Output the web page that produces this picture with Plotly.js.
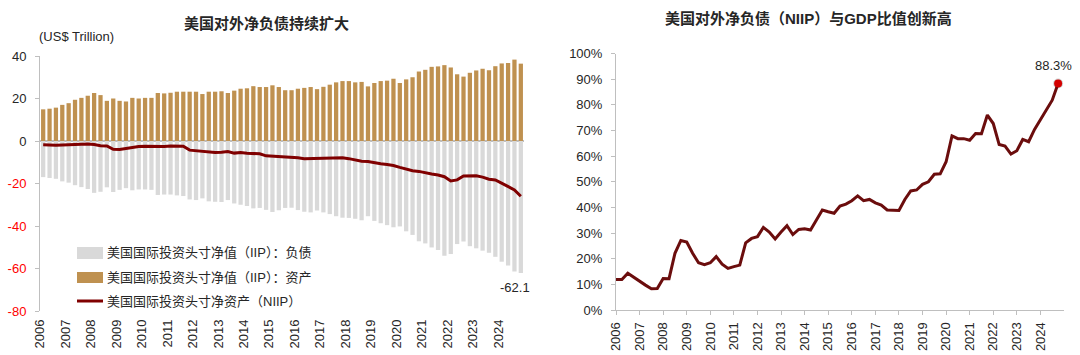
<!DOCTYPE html>
<html>
<head>
<meta charset="utf-8">
<script src="https://cdn.plot.ly/plotly-3.0.1.min.js"></script>
<style>
html,body{margin:0;padding:0;background:#ffffff;}
#chart{width:1080px;height:355px;}
</style>
</head>
<body>
<div id="chart"></div>
<script>
// ---------- data ----------
const years = [2006,2007,2008,2009,2010,2011,2012,2013,2014,2015,2016,2017,2018,2019,2020,2021,2022,2023,2024];
const quarterNames = ['Q1','Q2','Q3','Q4'];
const quarters = [];
years.forEach(y => quarterNames.forEach(q => quarters.push(y + q)));

// US$ trillion, 2006Q1 - 2024Q4
const assets = [
  14.9,15.2,15.7,17.0,
  17.8,19.4,20.3,21.3,
  22.6,21.6,18.9,20.0,
  18.9,18.6,20.3,20.0,
  20.3,20.3,22.6,22.4,
  22.7,23.2,23.2,23.2,
  23.2,22.1,23.2,23.2,
  23.4,22.6,23.7,24.6,
  24.8,25.8,25.4,25.4,
  26.2,25.4,23.9,23.9,
  24.6,25.0,25.4,24.4,
  25.5,26.5,27.6,28.2,
  28.2,27.6,27.8,25.7,
  27.3,28.2,28.4,29.3,
  27.3,29.0,30.0,32.7,
  33.5,34.9,35.1,35.7,
  34.6,31.4,30.3,32.1,
  33.2,34.0,33.3,35.2,
  36.5,36.7,38.3,36.4
];
const liabilities = [
  -17.0,-17.4,-17.8,-19.0,
  -19.6,-20.8,-21.7,-22.6,
  -24.4,-23.9,-21.8,-24.0,
  -23.0,-22.2,-23.2,-22.8,
  -22.8,-23.0,-25.4,-25.2,
  -25.2,-25.6,-25.9,-27.5,
  -27.8,-27.0,-28.4,-28.6,
  -28.7,-27.8,-29.4,-30.0,
  -30.6,-31.7,-31.5,-32.4,
  -33.4,-32.6,-31.5,-31.4,
  -32.5,-33.3,-33.6,-32.7,
  -33.6,-34.4,-35.4,-36.1,
  -36.2,-36.6,-37.3,-35.4,
  -37.6,-38.7,-39.6,-40.6,
  -40.2,-42.5,-44.2,-47.2,
  -48.2,-50.1,-51.3,-54.0,
  -53.2,-48.5,-47.3,-49.5,
  -50.5,-51.6,-52.6,-54.5,
  -56.8,-58.6,-61.4,-62.1
];
const niip = [
  -1.8,-2.0,-2.0,-1.9,
  -1.8,-1.6,-1.4,-1.4,
  -1.7,-2.2,-2.3,-3.9,
  -4.0,-3.5,-3.0,-2.6,
  -2.5,-2.6,-2.8,-2.6,
  -2.3,-2.3,-2.5,-4.3,
  -4.6,-4.7,-5.2,-5.4,
  -5.3,-5.0,-5.7,-5.4,
  -5.8,-5.9,-6.0,-7.0,
  -7.2,-7.2,-7.6,-7.5,
  -7.9,-8.3,-8.2,-8.2,
  -8.1,-7.9,-7.8,-7.9,
  -8.3,-9.0,-9.5,-9.7,
  -10.3,-10.7,-11.1,-11.5,
  -12.4,-13.2,-14.0,-14.3,
  -15.0,-15.5,-16.0,-16.8,
  -18.8,-18.3,-16.5,-16.6,
  -16.4,-17.0,-18.0,-18.3,
  -19.8,-21.3,-23.0,-26.0
];
// NIIP / GDP, %
const niipToGdp = [
  11.9,11.9,14.3,12.7,
  11.4,9.7,8.3,8.4,
  12.3,12.2,22.1,27.1,
  26.5,22.1,18.4,17.7,
  18.4,20.8,17.9,16.2,
  16.9,17.5,26.2,27.9,
  28.6,32.2,30.4,27.7,
  30.4,32.9,29.4,31.4,
  31.7,31.2,35.1,39.0,
  38.3,37.7,40.5,41.3,
  42.6,44.5,42.6,43.1,
  41.8,40.9,39.0,39.0,
  38.8,43.1,46.4,46.8,
  49.0,50.0,52.9,53.1,
  57.8,67.9,66.8,66.8,
  66.2,68.8,68.7,76.0,
  72.7,64.5,63.9,60.8,
  62.1,66.5,65.6,70.4,
  74.3,77.7,81.8,88.3
];
const yearTickLabels = years.map(String);
const leftTickValues = [-80,-60,-40,-20,0,20,40];
const legendNames = [
  '美国国际投资头寸净值（IIP）：负债',
  '美国国际投资头寸净值（IIP）：资产',
  '美国国际投资头寸净资产（NIIP）'
];
const leftTitle = '美国对外净负债持续扩大';
const rightTitle = '美国对外净负债（NIIP）与GDP比值创新高';
const unitLabel = '(US$ Trillion)';

// ---------- styling ----------
const W = 1080, H = 355;
const px = v => v / W;
const py = v => (H - v) / H;
const NUM = 'Liberation Sans, Arial, sans-serif';
const CJK = 'Liberation Sans, Noto Sans CJK SC, sans-serif';
const TXT = '#262626';
const AX = '#BFBFBF';
const cGray = '#D9D9D9', cBrown = '#BF9150', cNiip = '#800000', cRatio = '#6B0D0D', cDot = '#D40000';

const last = quarters.length - 1;

const traces = [
  {type:'bar', x:quarters, y:liabilities, marker:{color:cGray}, xaxis:'x', yaxis:'y', name:legendNames[0], hoverinfo:'skip'},
  {type:'bar', x:quarters, y:assets, marker:{color:cBrown}, xaxis:'x', yaxis:'y', name:legendNames[1], hoverinfo:'skip'},
  {type:'scatter', mode:'lines', x:quarters, y:niip, line:{color:cNiip, width:3}, xaxis:'x', yaxis:'y', name:legendNames[2], hoverinfo:'skip'},
  {type:'scatter', mode:'lines', x:quarters, y:niipToGdp, line:{color:cRatio, width:3}, xaxis:'x2', yaxis:'y2', hoverinfo:'skip'},
  {type:'scatter', mode:'markers', x:[quarters[last]], y:[niipToGdp[last]], marker:{color:'rgba(0,0,0,0.18)', size:10}, xaxis:'x2', yaxis:'y2', hoverinfo:'skip'},
  {type:'scatter', mode:'markers', x:[quarters[last]], y:[niipToGdp[last]], marker:{color:cDot, size:8}, xaxis:'x2', yaxis:'y2', hoverinfo:'skip'}
];

const leftTickText = leftTickValues.map(v => v < 0 ? '<span style="color:#FF0000">' + v + '</span>' : String(v));

const layout = {
  width: W, height: H,
  margin: {l:0, r:0, t:0, b:0},
  paper_bgcolor: '#ffffff', plot_bgcolor: 'rgba(0,0,0,0)',
  showlegend: false,
  barmode: 'relative',
  bargap: 0.33,
  font: {family: NUM, size: 13, color: TXT},
  xaxis: {
    type:'category', domain:[px(40), px(524)], anchor:'y',
    range:[-0.5, quarters.length - 0.5],
    tickmode:'array', tickvals: years.map((y,i) => i*4 - 0.5), ticktext: yearTickLabels,
    tickangle:-90, ticks:'', showline:false, showgrid:false, zeroline:false,
    ticklabelstandoff: 5,
    tickfont:{family:NUM, size:13, color:TXT}
  },
  yaxis: {
    domain:[py(311), py(56)], anchor:'x',
    range:[-80, 40],
    tickmode:'array', tickvals: leftTickValues, ticktext: leftTickText,
    ticks:'outside', ticklen:4, tickcolor:AX, tickwidth:1,
    showline:true, linecolor:AX, linewidth:1,
    showgrid:false, zeroline:true, zerolinecolor:AX, zerolinewidth:1.5,
    ticklabelstandoff: 6,
    tickfont:{family:NUM, size:13, color:TXT}
  },
  xaxis2: {
    type:'category', domain:[px(616), px(1064)], anchor:'y2',
    range:[0, quarters.length],
    tickmode:'array', tickvals: years.map((y,i) => i*4), ticktext: yearTickLabels,
    tickangle:-90, ticks:'outside', ticklen:4, tickcolor:AX,
    showline:true, linecolor:AX, linewidth:1, showgrid:false, zeroline:false,
    ticklabelstandoff: 2,
    tickfont:{family:NUM, size:13, color:TXT}
  },
  yaxis2: {
    domain:[py(310), py(53.5)], anchor:'x2',
    range:[0, 100], dtick:10, ticksuffix:'%',
    ticks:'outside', ticklen:4, tickcolor:AX,
    showline:true, linecolor:AX, linewidth:1, showgrid:false, zeroline:false,
    ticklabelstandoff: 6,
    tickfont:{family:NUM, size:13, color:TXT}
  },
  shapes: [
    {type:'rect', xref:'paper', yref:'paper', x0:px(77), x1:px(103), y0:py(259), y1:py(247), fillcolor:cGray, line:{width:0}},
    {type:'rect', xref:'paper', yref:'paper', x0:px(77), x1:px(103), y0:py(283), y1:py(272), fillcolor:cBrown, line:{width:0}},
    {type:'line', xref:'paper', yref:'paper', x0:px(77), x1:px(103), y0:py(301), y1:py(301), line:{color:cNiip, width:3}}
  ],
  annotations: [
    {xref:'paper', yref:'paper', x:px(266), y:py(23), xanchor:'center', yanchor:'middle', showarrow:false,
     text:'<b>' + leftTitle + '</b>', font:{family:CJK, size:15, color:TXT}},
    {xref:'paper', yref:'paper', x:px(808), y:py(18), xanchor:'center', yanchor:'middle', showarrow:false,
     text:'<b>' + rightTitle + '</b>', font:{family:CJK, size:15, color:TXT}},
    {xref:'paper', yref:'paper', x:px(37), y:py(37), xanchor:'left', yanchor:'middle', showarrow:false,
     text:unitLabel, font:{family:NUM, size:13, color:TXT}},
    {xref:'paper', yref:'paper', x:px(105), y:py(253), xanchor:'left', yanchor:'middle', showarrow:false,
     text:legendNames[0], font:{family:CJK, size:13, color:TXT}},
    {xref:'paper', yref:'paper', x:px(105), y:py(277), xanchor:'left', yanchor:'middle', showarrow:false,
     text:legendNames[1], font:{family:CJK, size:13, color:TXT}},
    {xref:'paper', yref:'paper', x:px(105), y:py(301), xanchor:'left', yanchor:'middle', showarrow:false,
     text:legendNames[2], font:{family:CJK, size:13, color:TXT}},
    {xref:'x', yref:'y', x:quarters[last], y:liabilities[last], xanchor:'center', yanchor:'top', yshift:-5, xshift:-6,
     showarrow:false, text:liabilities[last].toFixed(1), font:{family:NUM, size:13, color:TXT}},
    {xref:'x2', yref:'y2', x:quarters[last], y:niipToGdp[last], xanchor:'center', yanchor:'bottom', yshift:9, xshift:-5,
     showarrow:false, text:niipToGdp[last].toFixed(1) + '%', font:{family:NUM, size:13, color:TXT}}
  ]
};

Plotly.newPlot('chart', traces, layout, {displayModeBar:false, staticPlot:true});
</script>
</body>
</html>
